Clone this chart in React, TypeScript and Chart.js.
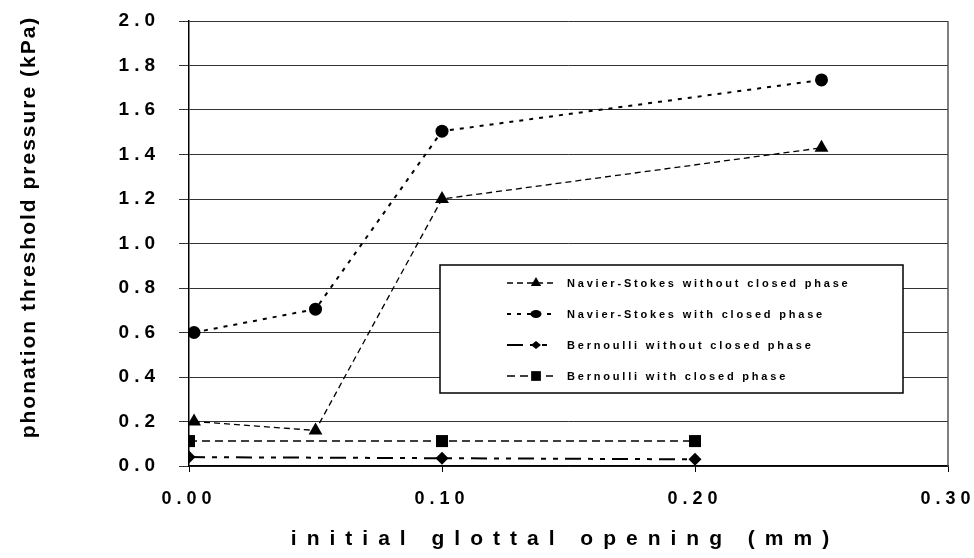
import React, { useEffect, useRef } from "react";
import { Chart, registerables } from "chart.js";

Chart.register(...registerables);

// ---- data ----
const seriesNames = [
  "Navier-Stokes without closed phase",
  "Navier-Stokes with closed phase",
  "Bernoulli without closed phase",
  "Bernoulli with closed phase",
];
const nsWithoutX = [0.002, 0.05, 0.1, 0.25];
const nsWithoutY = [0.2, 0.16, 1.2, 1.43];
const nsWithX = [0.002, 0.05, 0.1, 0.25];
const nsWithY = [0.6, 0.705, 1.505, 1.735];
const bernWithoutX = [0.0, 0.1, 0.2];
const bernWithoutY = [0.04, 0.035, 0.03];
const bernWithX = [0.0, 0.1, 0.2];
const bernWithY = [0.112, 0.112, 0.112];

const xMin = 0;
const xMax = 0.3;
const xStep = 0.1;
const yMin = 0;
const yMax = 2.0;
const yStep = 0.2;

const xTitle = "initial glottal opening (mm)";
const yTitle = "phonation threshold pressure (kPa)";

const FONT = "'Liberation Sans', Arial, sans-serif";

const styles = [
  { dash: [6, 4], width: 1.3, point: "triangle", radius: 8 },
  { dash: [4, 6], width: 2, point: "circle", radius: 6.5 },
  { dash: [16, 7, 5, 7, 5, 7], width: 2, point: "rectRot", radius: 6.5 },
  { dash: [8, 5], width: 1.5, point: "rect", radius: 8.5 },
];

const zip = (xs: number[], ys: number[]) => xs.map((x, i) => ({ x, y: ys[i] }));

const spacingPlugin = {
  id: "tickSpacing",
  beforeDraw(chart: any) {
    const conf: [string, string][] = [
      ["x", "5px"],
      ["y", "5px"],
    ];
    for (const [id, sp] of conf) {
      const s: any = chart.scales[id];
      if (s && !s.__wrapped) {
        const orig = s.drawLabels.bind(s);
        s.drawLabels = (area: any) => {
          const ctx = s.ctx;
          ctx.save();
          (ctx as any).letterSpacing = sp;
          orig(area);
          ctx.restore();
        };
        s.__wrapped = true;
      }
    }
  },
};

function drawMarker(ctx: CanvasRenderingContext2D, kind: string, r: number, x: number, y: number) {
  ctx.beginPath();
  if (kind === "triangle") {
    ctx.moveTo(x, y - r);
    ctx.lineTo(x + r * 0.866, y + r * 0.5);
    ctx.lineTo(x - r * 0.866, y + r * 0.5);
    ctx.closePath();
  } else if (kind === "circle") {
    ctx.ellipse(x, y, r * 1.1, r * 0.8, 0, 0, Math.PI * 2);
  } else if (kind === "rectRot") {
    ctx.moveTo(x - r, y);
    ctx.lineTo(x, y - r * 0.8);
    ctx.lineTo(x + r, y);
    ctx.lineTo(x, y + r * 0.8);
    ctx.closePath();
  } else {
    const s = r * 0.75;
    ctx.rect(x - s, y - s, 2 * s, 2 * s);
  }
  ctx.fill();
}

const decorPlugin = {
  id: "decor",
  afterDraw(chart: any) {
    const ctx: CanvasRenderingContext2D = chart.ctx;
    const area = chart.chartArea;
    // right border
    ctx.save();
    ctx.strokeStyle = "#555";
    ctx.lineWidth = 1.5;
    ctx.beginPath();
    ctx.moveTo(area.right, area.top);
    ctx.lineTo(area.right, area.bottom);
    ctx.stroke();
    ctx.restore();

    // axis titles
    ctx.save();
    ctx.fillStyle = "#000";
    ctx.font = `bold 21px ${FONT}`;
    (ctx as any).letterSpacing = "10px";
    ctx.textAlign = "center";
    ctx.textBaseline = "alphabetic";
    ctx.fillText(xTitle, 565, 545);
    ctx.restore();

    ctx.save();
    ctx.fillStyle = "#000";
    ctx.font = `bold 21px ${FONT}`;
    (ctx as any).letterSpacing = "2px";
    ctx.translate(35, 227);
    ctx.rotate(-Math.PI / 2);
    ctx.textAlign = "center";
    ctx.textBaseline = "alphabetic";
    ctx.fillText(yTitle, 0, 0);
    ctx.restore();

    // legend
    const bx = 440,
      by = 265,
      bw = 463,
      bh = 128;
    ctx.save();
    ctx.fillStyle = "#fff";
    ctx.fillRect(bx, by, bw, bh);
    ctx.strokeStyle = "#000";
    ctx.lineWidth = 1.5;
    ctx.strokeRect(bx, by, bw, bh);
    ctx.restore();

    const rows = [283, 314, 345, 376];
    chart.data.datasets.forEach((ds: any, i: number) => {
      const st = styles[i];
      const y = rows[i];
      ctx.save();
      ctx.strokeStyle = "#000";
      ctx.lineWidth = st.width;
      ctx.setLineDash(st.dash);
      ctx.beginPath();
      ctx.moveTo(507, y);
      ctx.lineTo(553, y);
      ctx.stroke();
      ctx.restore();

      ctx.save();
      ctx.fillStyle = "#000";
      drawMarker(ctx, st.point, Math.max(5, st.radius - 2), 536, y);
      ctx.restore();

      ctx.save();
      ctx.fillStyle = "#000";
      ctx.font = `bold 11px ${FONT}`;
      (ctx as any).letterSpacing = "2.8px";
      ctx.textAlign = "left";
      ctx.textBaseline = "middle";
      ctx.fillText(ds.label, 567, y + 1);
      ctx.restore();
    });
  },
};

export default function App() {
  const ref = useRef<HTMLCanvasElement | null>(null);

  useEffect(() => {
    document.body.style.margin = "0";
    const canvas = ref.current;
    if (!canvas) return;
    const seriesData = [
      zip(nsWithoutX, nsWithoutY),
      zip(nsWithX, nsWithY),
      zip(bernWithoutX, bernWithoutY),
      zip(bernWithX, bernWithY),
    ];
    const chart = new Chart(canvas, {
      type: "line",
      data: {
        datasets: seriesData.map((d, i) => ({
          label: seriesNames[i],
          data: d,
          borderColor: "#000",
          backgroundColor: "#000",
          borderWidth: styles[i].width,
          borderDash: styles[i].dash,
          pointStyle: styles[i].point as any,
          pointRadius: styles[i].radius,
          pointBackgroundColor: "#000",
          pointBorderColor: "#000",
          pointBorderWidth: 0,
          tension: 0,
          fill: false,
        })),
      },
      options: {
        animation: false,
        responsive: false,
        maintainAspectRatio: false,
        layout: { padding: { left: 0, right: 26, top: 21, bottom: 0 } },
        plugins: {
          legend: { display: false },
          tooltip: { enabled: false },
        },
        scales: {
          x: {
            type: "linear",
            min: xMin,
            max: xMax,
            afterFit: (s: any) => {
              s.height = 92;
              s.paddingLeft = 0;
              s.paddingRight = 0;
            },
            ticks: {
              stepSize: xStep,
              autoSkip: false,
              maxRotation: 0,
              padding: 16,
              color: "#000",
              font: { family: FONT, size: 18, weight: "bold" },
              callback: (v: any) => Number(v).toFixed(2),
            },
            grid: {
              display: true,
              drawOnChartArea: false,
              drawTicks: true,
              tickLength: 6,
              color: "#000",
              lineWidth: 1,
            },
            border: { display: true, color: "#000", width: 1.5 },
          },
          y: {
            type: "linear",
            min: yMin,
            max: yMax,
            afterFit: (s: any) => {
              s.width = 189;
              s.paddingTop = 0;
              s.paddingBottom = 0;
            },
            ticks: {
              stepSize: yStep,
              autoSkip: false,
              padding: 19,
              color: "#000",
              font: { family: FONT, size: 19, weight: "bold" },
              callback: (v: any) => Number(v).toFixed(1),
            },
            grid: {
              display: true,
              drawTicks: true,
              tickLength: 10,
              color: "#333",
              lineWidth: 1,
            },
            border: { display: true, color: "#000", width: 1.5 },
          },
        },
      },
      plugins: [spacingPlugin, decorPlugin],
    });
    return () => chart.destroy();
  }, []);

  return (
    <div style={{ width: 974, height: 558, background: "#fff" }}>
      <canvas ref={ref} width={974} height={558} style={{ display: "block" }} />
    </div>
  );
}
